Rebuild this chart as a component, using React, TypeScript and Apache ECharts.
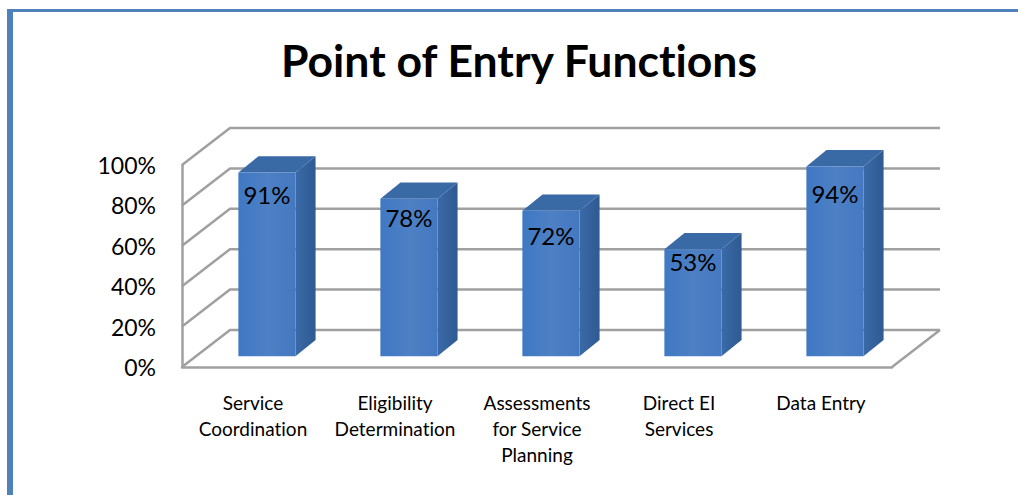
import React, { useEffect, useRef } from "react";
import * as echarts from "echarts";

const titleText = "Point of Entry Functions";
const categories = [
  "Service\nCoordination",
  "Eligibility\nDetermination",
  "Assessments\nfor Service\nPlanning",
  "Direct EI\nServices",
  "Data Entry",
];
const percentValues = [91, 78, 72, 53, 94];
const gridTicks = [0, 20, 40, 60, 80, 100];
// how far below each bar's top edge its label sits
const labelDrops = [22, 19, 25, 12, 27];

const FONT = "Lato, 'Open Sans', sans-serif";
const GRID_COLOR = "#a0a0a0";
const DEPTH_X = 48;
const DEPTH_Y = 37;
const BAR_FRONT = 0.29;
const BAR_BACK = 0.73;
const BAR_WIDTH_RATIO = 0.402;

function renderWall(params: any, api: any) {
  const v = api.value(1);
  const cs = params.coordSys;
  const y = api.coord([0, v])[1];
  const left = cs.x;
  const right = cs.x + cs.width;
  const lineStyle = { stroke: GRID_COLOR, lineWidth: 2.5, fill: "none" };
  const children: any[] = [
    {
      type: "polyline",
      shape: {
        points: [
          [left, y],
          [left + DEPTH_X, y - DEPTH_Y],
          [right + DEPTH_X, y - DEPTH_Y],
        ],
      },
      style: lineStyle,
    },
  ];
  if (v === 0) {
    children.push({
      type: "line",
      shape: { x1: right, y1: y, x2: right + DEPTH_X, y2: y - DEPTH_Y },
      style: lineStyle,
    });
  }
  return { type: "group", children };
}

function renderBar(params: any, api: any) {
  const idx = api.value(0);
  const v = api.value(1);
  const [cx, topY0] = api.coord([idx, v]);
  const baseY0 = api.coord([idx, 0])[1];
  const w = api.size([1, 0])[0] * BAR_WIDTH_RATIO;
  const fx = DEPTH_X * BAR_FRONT;
  const fy = DEPTH_Y * BAR_FRONT;
  const bx = DEPTH_X * (BAR_BACK - BAR_FRONT) - 1;
  const by = DEPTH_Y * (BAR_BACK - BAR_FRONT);
  const x0 = cx + fx - w / 2;
  const x1 = x0 + w;
  const top = topY0 - fy;
  const base = baseY0 - fy;
  return {
    type: "group",
    children: [
      {
        type: "polygon",
        shape: { points: [[x1, top], [x1 + bx, top - by], [x1 + bx, base - by], [x1, base]] },
        style: {
          fill: new echarts.graphic.LinearGradient(0, 0, 1, 0, [
            { offset: 0, color: "#3a6aa8" },
            { offset: 1, color: "#2f5a92" },
          ]),
        },
      },
      {
        type: "polygon",
        shape: { points: [[x0, top], [x0 + bx, top - by], [x1 + bx, top - by], [x1, top]] },
        style: { fill: "#3a6aa6" },
      },
      {
        type: "rect",
        shape: { x: x0, y: top, width: w, height: base - top },
        style: {
          fill: new echarts.graphic.LinearGradient(0, 0, 1, 0, [
            { offset: 0, color: "#3f78c4" },
            { offset: 0.5, color: "#4d80c4" },
            { offset: 1, color: "#4478c0" },
          ]),
        },
      },
      {
        type: "text",
        style: {
          x: x0 + w / 2,
          y: top + labelDrops[idx],
          text: `${v}%`,
          fill: "#000",
          font: `24px ${FONT}`,
          align: "center",
          verticalAlign: "middle",
        },
      },
    ],
  };
}

export default function App() {
  const ref = useRef<HTMLDivElement>(null);
  useEffect(() => {
    document.body.style.margin = "0";
    document.body.style.overflow = "hidden";
    const chart = echarts.init(ref.current!, undefined, { renderer: "svg" });
    chart.setOption({
      animation: false,
      backgroundColor: "#fff",
      title: {
        text: titleText,
        left: 514,
        top: 32,
        textAlign: "center",
        textStyle: { fontFamily: FONT, fontSize: 44.5, fontWeight: "bold", color: "#000" },
      },
      grid: { left: 182, right: 126, top: 165, bottom: 128 },
      xAxis: {
        type: "category",
        data: categories,
        axisTick: { show: false },
        axisLine: { show: true, lineStyle: { color: GRID_COLOR, width: 2.5 } },
        axisLabel: {
          interval: 0,
          margin: 22,
          color: "#000",
          fontFamily: FONT,
          fontSize: 19,
          lineHeight: 26,
          verticalAlign: "top",
        },
      },
      yAxis: {
        type: "value",
        min: 0,
        max: 100,
        interval: 20,
        splitLine: { show: false },
        axisTick: { show: false },
        axisLine: { show: true, lineStyle: { color: GRID_COLOR, width: 2.5 } },
        axisLabel: {
          formatter: "{value}%",
          margin: 26,
          color: "#000",
          fontFamily: FONT,
          fontSize: 23,
        },
      },
      graphic: [
        { type: "rect", shape: { x: 7, y: 9, width: 1011, height: 3 }, style: { fill: "#4f81bd" } },
        { type: "rect", shape: { x: 7, y: 9, width: 6, height: 486 }, style: { fill: "#4f81bd" } },
      ],
      series: [
        {
          type: "custom",
          renderItem: renderWall,
          encode: { x: 0, y: 1 },
          data: gridTicks.map((t) => [0, t]),
          silent: true,
          z: 1,
        },
        {
          type: "custom",
          renderItem: renderBar,
          encode: { x: 0, y: 1 },
          data: percentValues.map((v, i) => [i, v]),
          silent: true,
          z: 2,
        },
      ],
    });
    return () => chart.dispose();
  }, []);
  return <div ref={ref} style={{ width: 1018, height: 495, fontVariantLigatures: "none" }} />;
}
